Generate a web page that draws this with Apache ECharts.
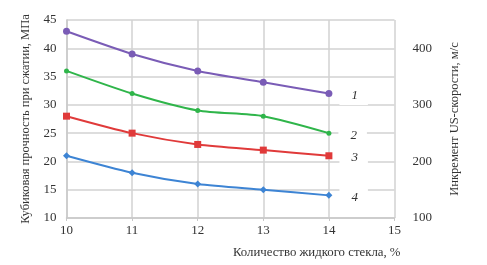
<!DOCTYPE html>
<html><head><meta charset="utf-8">
<script src="https://cdn.jsdelivr.net/npm/echarts@6/dist/echarts.min.js"></script>
<style>html,body{margin:0;padding:0;background:#fff}#c{width:487px;height:265px}</style>
</head><body><div id="c"></div>
<script>
const xValues = [10, 11, 12, 13, 14];
const series1 = [43, 39, 36, 34, 32];
const series2 = [36, 32, 29, 28, 25];
const series3 = [28, 25, 23, 22, 21];
const series4 = [21, 18, 16, 15, 14];
const seriesNames = ['1', '2', '3', '4'];
const leftTitle = 'Кубиковая прочность при сжатии, МПа';
const rightTitle = 'Инкремент US-скорости, м/с';
const xTitle = 'Количество жидкого стекла, %';

const font = 'Liberation Serif';
const colors = ['#7a5cb6', '#2fb54a', '#e03a3a', '#3d84d4'];
const symbols = ['circle', 'circle', 'rect', 'diamond'];
const sizes = [7, 5, 7, 7];
const all = [series1, series2, series3, series4];

const chart = echarts.init(document.getElementById('c'), null, {renderer: 'canvas'});
chart.setOption({
  animation: false,
  backgroundColor: '#fff',
  grid: {left: 66.5, right: 92.5, top: 20, bottom: 47},
  xAxis: {
    type: 'value', min: 10, max: 15, interval: 1,
    axisLine: {show: true, lineStyle: {color: '#c8c8c8', width: 1.5}},
    axisTick: {show: true, length: 3, lineStyle: {color: '#c8c8c8'}},
    splitLine: {show: true, lineStyle: {color: '#d2d2d2', width: 1.5}},
    axisLabel: {color: '#333', fontFamily: font, fontSize: 13, margin: 6},
    name: xTitle, nameLocation: 'end', nameGap: 6,
    nameTextStyle: {fontFamily: font, fontSize: 12.8, color: '#333', align: 'right', verticalAlign: 'top', padding: [28, 0, 0, 0]}
  },
  yAxis: [{
    type: 'value', min: 10, max: 45, interval: 5,
    axisLine: {show: true, lineStyle: {color: '#c8c8c8', width: 1.5}},
    axisTick: {show: false},
    splitLine: {show: true, lineStyle: {color: '#d2d2d2', width: 1.5}},
    axisLabel: {color: '#333', fontFamily: font, fontSize: 13, margin: 10},
    name: leftTitle, nameLocation: 'middle', nameGap: 33, nameRotate: 90,
    nameTextStyle: {fontFamily: font, fontSize: 12.5, color: '#333'}
  }, {
    type: 'value', min: 100, max: 450, interval: 100, position: 'right',
    axisLine: {show: false}, axisTick: {show: false}, splitLine: {show: false},
    axisLabel: {color: '#333', fontFamily: font, fontSize: 13, margin: 18, showMaxLabel: false},
    name: rightTitle, nameLocation: 'middle', nameGap: 54, nameRotate: 90,
    nameTextStyle: {fontFamily: font, fontSize: 12.5, color: '#333'}
  }],
  series: all.map((vals, i) => ({
    type: 'line', name: seriesNames[i], smooth: 0.25,
    data: vals.map((v, j) => {
      const d = {value: [xValues[j], v]};
      if (j === vals.length - 1) {
        d.label = {show: true, formatter: seriesNames[i], position: 'right', distance: 7,
          offset: [0, 2],
          fontFamily: font, fontStyle: 'italic', fontSize: 13, color: '#333',
          backgroundColor: '#fff', padding: [3, 10, 3, 12]};
      }
      return d;
    }),
    symbol: symbols[i], symbolSize: sizes[i],
    lineStyle: {color: colors[i], width: 2},
    itemStyle: {color: colors[i]}
  }))
});
</script></body></html>
